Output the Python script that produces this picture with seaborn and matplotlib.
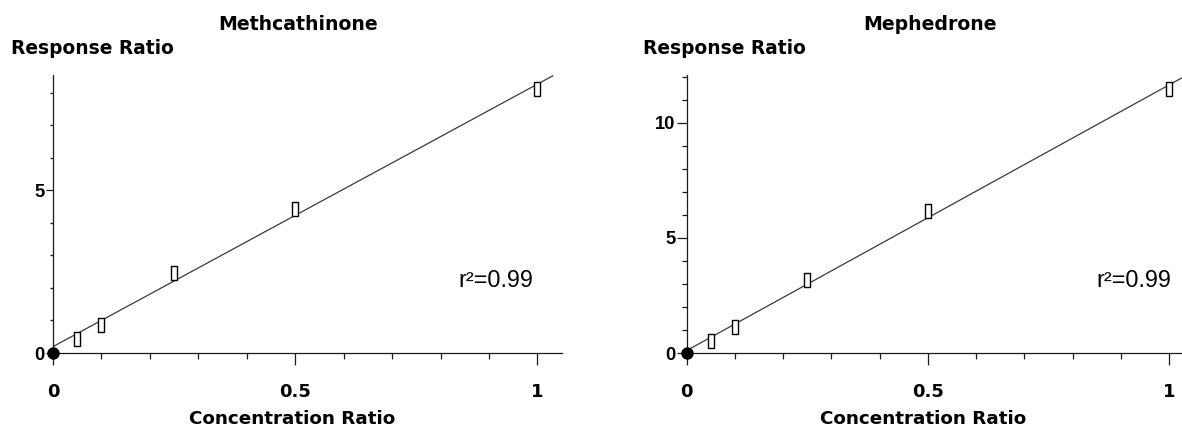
import numpy as np
import matplotlib
matplotlib.use("Agg")
import matplotlib.pyplot as plt
from matplotlib.path import Path
from matplotlib.ticker import MultipleLocator
import seaborn as sns

# ---------------- data ----------------
titles = ["Methcathinone", "Mephedrone"]
conc = [0.05, 0.1, 0.25, 0.5, 1.0]
resp_methcathinone = [0.44, 0.86, 2.45, 4.44, 8.13]
resp_mephedrone = [0.51, 1.13, 3.17, 6.16, 11.47]
origin_x = [0.0]
origin_y = [0.0]
r2_text = "r\u00b2=0.99"
x_ticks = [0, 0.5, 1]
x_tick_labels = ["0", "0.5", "1"]
y_ticks_left = [0, 5]
y_ticks_right = [0, 5, 10]
x_label = "Concentration Ratio"
y_label = "Response Ratio"

sns.set_theme(style="white")
plt.rcParams["font.family"] = ["DejaVu Sans"]

fig = plt.figure(figsize=(11.82, 4.28), dpi=100)

rect = Path([(-0.22, -0.5), (0.22, -0.5), (0.22, 0.5), (-0.22, 0.5), (-0.22, -0.5)],
            [Path.MOVETO, Path.LINETO, Path.LINETO, Path.LINETO, Path.CLOSEPOLY])

panels = [
    dict(rect=[53 / 1182, 75 / 428, 508.7 / 1182, 278 / 428], resp=resp_methcathinone,
         ylim=8.55, yticks=y_ticks_left, line_end=1.032, title=titles[0],
         title_x=0.4816, ylab_x=-0.0816, xlab_x=0.4705, r2_x=0.7975,
         ymaj_len=5, ymin_len=2.4),
    dict(rect=[686.7 / 1182, 75 / 428, 506.4 / 1182, 278 / 428], resp=resp_mephedrone,
         ylim=12.07, yticks=y_ticks_right, line_end=1.05, title=titles[1],
         title_x=0.4805, ylab_x=-0.0863, xlab_x=0.4676, r2_x=0.809,
         ymaj_len=7, ymin_len=3.6),
]

dark = "#1a1a1a"
for p in panels:
    ax = fig.add_axes(p["rect"])
    ax.set_xlim(0, p["line_end"])
    ax.set_ylim(0, p["ylim"])
    sns.regplot(x=conc, y=p["resp"], ax=ax, scatter=False, ci=None, truncate=False,
                line_kws=dict(color="#3a3a3a", lw=0.9, zorder=2))
    sns.scatterplot(x=conc, y=p["resp"], ax=ax, marker=rect, s=92,
                    facecolor="white", edgecolor="black", linewidth=1.0,
                    legend=False, zorder=3)
    sns.scatterplot(x=origin_x, y=origin_y, ax=ax, marker="o", s=80,
                    color="black", edgecolor="black", linewidth=0,
                    legend=False, zorder=5, clip_on=False)
    ax.set_xlim(0, 1.05)
    ax.set_ylim(0, p["ylim"])

    sns.despine(ax=ax)
    for s in ["left", "bottom"]:
        ax.spines[s].set_color(dark)
        ax.spines[s].set_linewidth(0.9)

    ax.set_xticks(x_ticks, labels=x_tick_labels, fontsize=13, fontweight="bold",
                  family="DejaVu Sans", color="black")
    ax.set_yticks(p["yticks"], labels=[str(v) for v in p["yticks"]], fontsize=13.2,
                  fontweight="bold", family="Liberation Sans", color="black")
    ax.xaxis.set_minor_locator(MultipleLocator(0.1))
    ax.yaxis.set_minor_locator(MultipleLocator(1))
    ax.tick_params(axis="x", which="major", direction="out", length=8.6, width=0.9,
                   color=dark, labelcolor="black", pad=13, bottom=True)
    ax.tick_params(axis="x", which="minor", direction="out", length=4.3, width=0.9,
                   color=dark, bottom=True)
    ax.tick_params(axis="y", which="major", direction="out", length=p["ymaj_len"],
                   width=0.9, color=dark, labelcolor="black", pad=1, left=True)
    ax.tick_params(axis="y", which="minor", direction="out", length=p["ymin_len"],
                   width=0.9, color=dark, left=True)
    ax.grid(False)

    ax.text(p["title_x"], 1.162, p["title"], transform=ax.transAxes, ha="center",
            va="baseline", fontsize=13.6, fontweight="bold", color="black")
    ax.set_ylabel(y_label, rotation=0, ha="left", va="baseline", fontsize=13.4,
                  fontweight="bold", color="black")
    ax.yaxis.set_label_coords(p["ylab_x"], 1.0773)
    ax.set_xlabel(x_label, ha="center", va="top", fontsize=13.2, fontweight="bold",
                  color="black")
    ax.xaxis.set_label_coords(p["xlab_x"], -0.205)
    ax.text(p["r2_x"], 0.2385, r2_text, transform=ax.transAxes, ha="left",
            va="baseline", fontsize=16.8, family="Liberation Sans", color="black")

fig.savefig("out.png", dpi=100)
